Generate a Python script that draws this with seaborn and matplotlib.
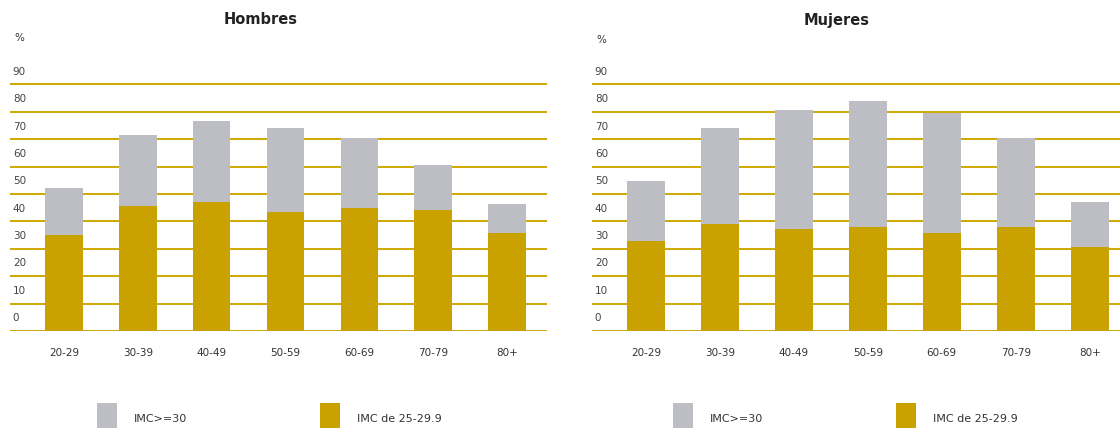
import matplotlib
matplotlib.use("Agg")
import matplotlib.pyplot as plt
import seaborn as sns
import numpy as np

# ---------------------------------
# Data
# ---------------------------------

edades = ["20-29", "30-39", "40-49", "50-59", "60-69", "70-79", "80+"]

# IMC de 25-29.9 (sobrepeso) and IMC>=30 (obesidad), in %
hombres_sobrepeso = [35.0, 45.7, 47.2, 43.3, 45.0, 44.2, 35.7]
hombres_obesidad = [17.3, 25.8, 29.4, 30.8, 25.5, 16.4, 10.7]

mujeres_sobrepeso = [33.0, 39.1, 37.2, 38.0, 35.7, 38.0, 30.5]
mujeres_obesidad = [21.7, 34.9, 43.5, 46.1, 43.8, 32.3, 16.7]

grid_values = list(range(0, 100, 10))
tick_labels = [str(v) for v in grid_values]

gris = "#bdbec3"
oro = "#c9a100"
linea = "#cfa800"

sns.set_style("white")
plt.rcParams["font.family"] = ["Liberation Sans Narrow", "DejaVu Sans"]

fig = plt.figure(figsize=(11.2, 4.28), dpi=100)

W, H = 1120, 428
base = 331
px_per_unit = 2.74
ytop = 97


def panel(left_px, right_px, sobrepeso, obesidad, xmax):
    ax = fig.add_axes([
        left_px / W,
        1 - base / H,
        (right_px - left_px) / W,
        ytop * px_per_unit / H,
    ])
    total = np.array(sobrepeso) + np.array(obesidad)
    sns.barplot(x=edades, y=total, color=gris, width=0.51, saturation=1,
                linewidth=0, label="IMC>=30", ax=ax)
    sns.barplot(x=edades, y=sobrepeso, color=oro, width=0.51, saturation=1,
                linewidth=0, label="IMC de 25-29.9", ax=ax)

    ax.set_xlim(-0.73, xmax)
    ax.set_ylim(0, ytop)
    ax.set_xlabel("")
    ax.set_ylabel("")

    # gridlines on minor ticks, labels sit half a step above each line
    ax.set_yticks(grid_values, minor=True)
    ax.set_yticks([v + 5 for v in grid_values])
    ax.set_yticklabels(tick_labels)
    for lbl in ax.get_yticklabels():
        lbl.set_ha("left")
    ax.tick_params(axis="y", which="both", length=0, pad=-2,
                   labelsize=7.5, labelcolor="#444444")
    ax.tick_params(axis="x", length=0, pad=12, labelsize=7.5,
                   labelcolor="#333333")
    ax.grid(False)
    ax.yaxis.grid(True, which="minor", color=linea, linewidth=1.4)
    ax.set_axisbelow(True)
    for s in ax.spines.values():
        s.set_visible(False)
    return ax


ax1 = panel(10, 547, hombres_sobrepeso, hombres_obesidad, 6.54)
ax2 = panel(592, 1120, mujeres_sobrepeso, mujeres_obesidad, 6.41)

fig.text(261 / W, 1 - 20 / H, "Hombres", ha="center", va="center",
         fontsize=10.5, fontweight="bold", color="#222222")
fig.text(837 / W, 1 - 20 / H, "Mujeres", ha="center", va="center",
         fontsize=10.5, fontweight="bold", color="#222222")
fig.text(14 / W, 1 - 38 / H, "%", ha="left", va="center",
         fontsize=7.5, color="#333333")
fig.text(596 / W, 1 - 40 / H, "%", ha="left", va="center",
         fontsize=7.5, color="#333333")

for ax, x0 in [(ax1, 97), (ax2, 673)]:
    h, l = ax.get_legend_handles_labels()
    ax.legend(h, l, ncol=2, frameon=False, fontsize=8,
              loc="upper left", bbox_to_anchor=(x0 / W, 1 - 403 / H),
              bbox_transform=fig.transFigure, borderpad=0, borderaxespad=0,
              handlelength=1.8, handleheight=4.1, handletextpad=1.5,
              columnspacing=12.0, labelcolor="#333333")

fig.savefig("out.png", dpi=100)
